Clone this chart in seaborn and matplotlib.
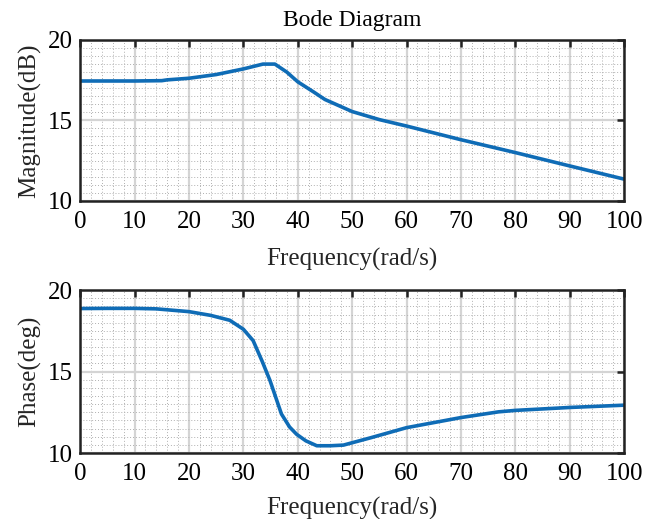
import matplotlib
matplotlib.use("Agg")
import matplotlib.pyplot as plt
from matplotlib.ticker import MultipleLocator
import seaborn as sns
import pandas as pd

freq_mag = [0, 5, 10, 15, 16, 20, 25, 30, 33.6, 35.8, 38, 40, 43, 45, 50, 55, 60, 70, 80, 90, 100]
magnitude = [17.45, 17.45, 17.45, 17.47, 17.52, 17.62, 17.85, 18.2, 18.5, 18.5, 18.0, 17.4, 16.75, 16.3, 15.55, 15.05, 14.65, 13.8, 13.0, 12.17, 11.35]

freq_ph = [0, 5, 10, 14, 20, 24, 27.5, 30, 31.8, 33.5, 34.9, 37, 38.5, 39.8, 41.5, 43.5, 46, 48.4, 53.4, 60, 70, 76.9, 80, 90, 100]
phase = [18.87, 18.88, 18.88, 18.85, 18.68, 18.45, 18.15, 17.6, 16.9, 15.6, 14.45, 12.4, 11.6, 11.15, 10.75, 10.45, 10.45, 10.49, 10.94, 11.56, 12.18, 12.53, 12.62, 12.8, 12.94]

sns.set_theme(style="white")
plt.rcParams['font.family'] = ['Liberation Serif', 'DejaVu Serif']
plt.rcParams['mathtext.fontset'] = 'stix'

fig = plt.figure(figsize=(6.57, 5.19), dpi=100)
ax1 = fig.add_axes([0.122, 0.613, 0.828, 0.310])
ax2 = fig.add_axes([0.122, 0.127, 0.828, 0.314])

color = "#0f6cb6"
df1 = pd.DataFrame({"f": freq_mag, "v": magnitude})
df2 = pd.DataFrame({"f": freq_ph, "v": phase})
sns.lineplot(data=df1, x="f", y="v", ax=ax1, color=color, linewidth=2.6)
sns.lineplot(data=df2, x="f", y="v", ax=ax2, color=color, linewidth=2.6)

for ax, ylabel, lp in [(ax1, "Magnitude(dB)", 11), (ax2, "Phase(deg)", 9)]:
    ax.set_xlim(0, 100)
    ax.set_ylim(10, 20)
    ax.xaxis.set_major_locator(MultipleLocator(10))
    ax.yaxis.set_major_locator(MultipleLocator(5))
    ax.xaxis.set_minor_locator(MultipleLocator(2))
    ax.yaxis.set_minor_locator(MultipleLocator(0.5))
    ax.grid(True, which="major", color="#d4d4d4", linewidth=1.6, linestyle="-")
    ax.grid(True, which="minor", color="#b0b0b0", linewidth=0.7, linestyle=(0, (1, 2)))
    ax.set_axisbelow(True)
    for s in ax.spines.values():
        s.set_visible(True)
        s.set_color("#222222")
        s.set_linewidth(1.8)
    ax.tick_params(axis="both", which="major", direction="in", length=5, width=1.8,
                   top=True, right=True, labelsize=18, colors="#222222", pad=5)
    ax.tick_params(axis="x", which="major", pad=7)
    ax.tick_params(axis="both", which="minor", length=0)
    for lab in ax.get_xticklabels() + ax.get_yticklabels():
        lab.set_color("black")
    ax.set_xlabel("Frequency(rad/s)", fontsize=18, labelpad=lp)
    ax.set_ylabel(ylabel, fontsize=18, labelpad=5)

ax1.set_title("Bode Diagram", fontsize=17, pad=10, color="black")

fig.savefig("out.png", dpi=100)
